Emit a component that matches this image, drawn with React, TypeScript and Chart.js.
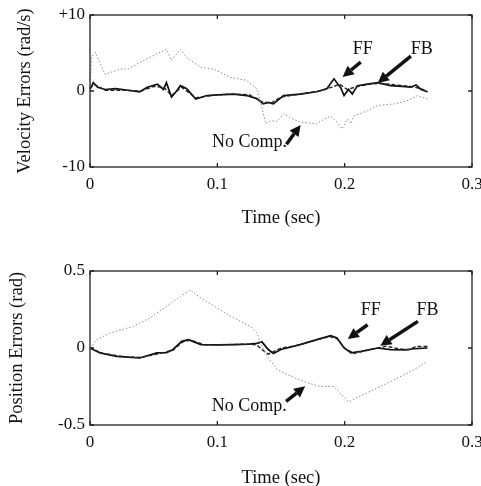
import React, { useEffect, useRef } from "react";
import { Chart, registerables } from "chart.js";
Chart.register(...registerables);

// ---------- tick definitions ----------
const xTickValues = [0, 0.1, 0.2, 0.3];
const xTickLabels = ["0", "0.1", "0.2", "0.3"];
const velTickValues = [-10, 0, 10];
const velTickLabels = ["-10", "0", "+10"];
const posTickValues = [-0.5, 0, 0.5];
const posTickLabels = ["-0.5", "0", "0.5"];

// ---------- velocity errors (rad/s) ----------
const velNoCompT = [0, 0.0013, 0.004, 0.0118, 0.024, 0.03, 0.042, 0.0525, 0.06, 0.064, 0.071, 0.076, 0.087, 0.097, 0.11, 0.123, 0.131, 0.134, 0.138, 0.142, 0.147, 0.152, 0.157, 0.165, 0.178, 0.184, 0.189, 0.194, 0.198, 0.202, 0.205, 0.207, 0.218, 0.226, 0.239, 0.249, 0.257, 0.265];
const velNoCompV = [0.5, 4.5, 5.1, 2.2, 2.9, 2.9, 4.0, 4.9, 5.5, 4.0, 5.5, 4.4, 3.1, 2.9, 1.8, 1.4, 0.3, -1.5, -4.3, -3.9, -4.0, -3.0, -3.5, -4.1, -4.3, -3.7, -3.3, -4.1, -5.0, -3.7, -4.3, -3.3, -2.6, -1.9, -1.7, -1.3, -0.6, -1.05];

const velFFT = [0, 0.0026, 0.006, 0.012, 0.02, 0.03, 0.039, 0.045, 0.053, 0.0577, 0.06, 0.064, 0.068, 0.071, 0.076, 0.083, 0.092, 0.1, 0.113, 0.123, 0.131, 0.136, 0.14, 0.144, 0.152, 0.165, 0.178, 0.186, 0.1916, 0.197, 0.1995, 0.203, 0.206, 0.21, 0.218, 0.226, 0.236, 0.245, 0.252, 0.256, 0.26, 0.265];
const velFFV = [0.2, 1.1, 0.5, 0.2, 0.3, 0.1, -0.1, 0.5, 0.9, 0.2, 1.1, -0.8, 0.0, 0.7, 0.3, -1.05, -0.6, -0.5, -0.4, -0.6, -1.0, -1.7, -1.5, -1.7, -0.6, -0.4, -0.1, 0.3, 1.6, 0.4, -0.6, 0.2, -0.4, 0.7, 0.9, 1.1, 0.7, 0.6, 0.5, 0.8, 0.2, -0.1];

const velFBT = [0, 0.003, 0.012, 0.025, 0.04, 0.05, 0.058, 0.064, 0.072, 0.083, 0.095, 0.11, 0.125, 0.135, 0.142, 0.15, 0.165, 0.18, 0.19, 0.196, 0.202, 0.21, 0.22, 0.228, 0.24, 0.252, 0.26, 0.265];
const velFBV = [0.3, 0.9, 0.1, 0.1, 0.0, 0.6, 0.5, -0.6, 0.5, -0.9, -0.6, -0.4, -0.5, -1.4, -1.6, -0.8, -0.4, 0.0, 0.5, 0.9, 0.2, 0.6, 0.9, 1.0, 0.8, 0.6, 0.3, -0.1];

// ---------- position errors (rad) ----------
const posNoCompT = [0, 0.0053, 0.0157, 0.034, 0.047, 0.06, 0.071, 0.0787, 0.087, 0.0997, 0.113, 0.126, 0.131, 0.134, 0.139, 0.147, 0.157, 0.171, 0.181, 0.1916, 0.197, 0.2034, 0.2126, 0.2257, 0.2415, 0.2546, 0.265];
const posNoCompP = [0, 0.054, 0.097, 0.14, 0.195, 0.27, 0.335, 0.377, 0.325, 0.26, 0.195, 0.14, 0.1, 0.03, -0.054, -0.14, -0.18, -0.227, -0.25, -0.25, -0.3, -0.35, -0.31, -0.26, -0.195, -0.14, -0.086];

const posFFT = [0, 0.0079, 0.021, 0.039, 0.0525, 0.06, 0.065, 0.072, 0.0774, 0.087, 0.1, 0.113, 0.125, 0.131, 0.135, 0.14, 0.144, 0.15, 0.165, 0.178, 0.189, 0.194, 0.1995, 0.205, 0.213, 0.226, 0.236, 0.247, 0.255, 0.265];
const posFFP = [0, -0.032, -0.054, -0.065, -0.032, -0.03, -0.011, 0.043, 0.054, 0.022, 0.02, 0.022, 0.025, 0.03, 0.04, -0.01, -0.035, -0.01, 0.022, 0.054, 0.08, 0.065, 0.0, -0.032, -0.022, 0.0, -0.01, -0.012, -0.005, 0.0];

const posFBT = [0, 0.01, 0.025, 0.04, 0.055, 0.065, 0.073, 0.079, 0.09, 0.11, 0.125, 0.131, 0.135, 0.14, 0.145, 0.15, 0.16, 0.175, 0.188, 0.194, 0.2, 0.207, 0.215, 0.226, 0.233, 0.242, 0.25, 0.256, 0.265];
const posFBP = [0, -0.035, -0.055, -0.062, -0.035, -0.015, 0.04, 0.052, 0.02, 0.022, 0.025, 0.02, -0.01, -0.04, -0.02, 0.0, 0.012, 0.045, 0.075, 0.06, 0.0, -0.035, -0.02, 0.0, 0.012, -0.005, -0.012, 0.01, 0.01];

const FONT = "'Liberation Serif', 'DejaVu Serif', serif";

type Ann = { text: string; tx: number; ty: number; ax1: number; ay1: number; ax2: number; ay2: number };

const velAnnotations: Ann[] = [
  { text: "FF", tx: 0.2142, ty: 5.5, ax1: 0.2126, ay1: 3.8, ax2: 0.1984, ay2: 1.84 },
  { text: "FB", tx: 0.2606, ty: 5.5, ax1: 0.252, ay1: 4.6, ax2: 0.226, ay2: 1.05 },
  { text: "No Comp.", tx: 0.1252, ty: -6.78, ax1: 0.1543, ay1: -7.0, ax2: 0.1654, ay2: -4.47 },
];
const posAnnotations: Ann[] = [
  { text: "FF", tx: 0.2205, ty: 0.247, ax1: 0.218, ay1: 0.151, ax2: 0.2024, ay2: 0.058 },
  { text: "FB", tx: 0.265, ty: 0.247, ax1: 0.2575, ay1: 0.173, ax2: 0.228, ay2: 0.015 },
  { text: "No Comp.", tx: 0.125, ty: -0.38, ax1: 0.154, ay1: -0.346, ax2: 0.169, ay2: -0.249 },
];

function pts(t: number[], v: number[]) {
  return t.map((x, i) => ({ x, y: v[i] }));
}

type PanelProps = {
  noComp: { x: number; y: number }[];
  ff: { x: number; y: number }[];
  fb: { x: number; y: number }[];
  yMin: number;
  yMax: number;
  yTicks: number[];
  yLabels: string[];
  yTitle: string;
  yTitlePad: number;
  xTitlePad: number;
  padTop: number;
  xAxisHeight: number;
  annotations: Ann[];
};

function Panel(p: PanelProps) {
  const ref = useRef<HTMLCanvasElement>(null);
  useEffect(() => {
    if (!ref.current) return;
    const framePlugin = {
      id: "frame",
      afterDraw(chart: any) {
        const { ctx, chartArea, scales } = chart;
        const { left, right, top, bottom } = chartArea;
        const xs = scales.x, ys = scales.y;
        ctx.save();
        ctx.strokeStyle = "#222";
        ctx.lineWidth = 1.3;
        ctx.strokeRect(left, top, right - left, bottom - top);
        const tl = 4;
        ctx.beginPath();
        xTickValues.forEach((v) => {
          const px = xs.getPixelForValue(v);
          ctx.moveTo(px, bottom); ctx.lineTo(px, bottom - tl);
          ctx.moveTo(px, top); ctx.lineTo(px, top + tl);
        });
        p.yTicks.forEach((v) => {
          const py = ys.getPixelForValue(v);
          ctx.moveTo(left, py); ctx.lineTo(left + tl, py);
          ctx.moveTo(right, py); ctx.lineTo(right - tl, py);
        });
        ctx.stroke();
        // annotations
        ctx.fillStyle = "#111";
        ctx.strokeStyle = "#111";
        ctx.font = `18px ${FONT}`;
        ctx.textAlign = "center";
        ctx.textBaseline = "middle";
        p.annotations.forEach((a) => {
          ctx.fillText(a.text, xs.getPixelForValue(a.tx), ys.getPixelForValue(a.ty));
          const x1 = xs.getPixelForValue(a.ax1), y1 = ys.getPixelForValue(a.ay1);
          const x2 = xs.getPixelForValue(a.ax2), y2 = ys.getPixelForValue(a.ay2);
          const ang = Math.atan2(y2 - y1, x2 - x1);
          const hl = 11, hw = 5.5;
          const bx = x2 - hl * Math.cos(ang), by = y2 - hl * Math.sin(ang);
          ctx.lineWidth = 3.5;
          ctx.beginPath();
          ctx.moveTo(x1, y1);
          ctx.lineTo(bx, by);
          ctx.stroke();
          ctx.beginPath();
          ctx.moveTo(x2, y2);
          ctx.lineTo(bx + hw * Math.sin(ang), by - hw * Math.cos(ang));
          ctx.lineTo(bx - hw * Math.sin(ang), by + hw * Math.cos(ang));
          ctx.closePath();
          ctx.fill();
        });
        ctx.restore();
      },
    };
    const chart = new Chart(ref.current, {
      type: "line",
      data: {
        datasets: [
          { label: "No Comp.", data: p.noComp, borderColor: "#8c8c8c", borderWidth: 1, borderDash: [1.5, 2], pointRadius: 0, tension: 0 },
          { label: "FB", data: p.fb, borderColor: "#222", borderWidth: 1.4, borderDash: [4, 2], pointRadius: 0, tension: 0 },
          { label: "FF", data: p.ff, borderColor: "#111", borderWidth: 1.7, pointRadius: 0, tension: 0 },
        ],
      },
      options: {
        animation: false,
        responsive: true,
        maintainAspectRatio: false,
        layout: { padding: { top: p.padTop, right: 9, left: 0, bottom: 0 } },
        plugins: { legend: { display: false }, tooltip: { enabled: false } },
        scales: {
          x: {
            type: "linear",
            min: 0,
            max: 0.3,
            grid: { display: false, drawTicks: false },
            border: { display: false },
            afterBuildTicks: (s: any) => { s.ticks = xTickValues.map((v) => ({ value: v })); },
            afterFit: (s: any) => { s.height = p.xAxisHeight; s.paddingLeft = 0; s.paddingRight = 0; },
            ticks: {
              padding: 7,
              color: "#111",
              maxRotation: 0,
              font: { family: FONT, size: 17 },
              callback: (v: any) => xTickLabels[xTickValues.indexOf(v)],
            },
            title: { display: true, text: "Time (sec)", color: "#111", font: { family: FONT, size: 18.5 }, padding: { top: 0, bottom: p.xTitlePad } },
          },
          y: {
            type: "linear",
            min: p.yMin,
            max: p.yMax,
            grid: { display: false, drawTicks: false },
            border: { display: false },
            afterBuildTicks: (s: any) => { s.ticks = p.yTicks.map((v) => ({ value: v })); },
            afterFit: (s: any) => { s.width = 90; s.paddingTop = 0; s.paddingBottom = 0; },
            ticks: {
              padding: 5,
              color: "#111",
              font: { family: FONT, size: 17 },
              callback: (v: any) => p.yLabels[p.yTicks.indexOf(v)],
            },
            title: { display: true, text: p.yTitle, color: "#111", font: { family: FONT, size: 18.5 }, padding: { top: p.yTitlePad, bottom: 0 } },
          },
        },
      },
      plugins: [framePlugin],
    } as any);
    return () => chart.destroy();
  }, []);
  return (
    <div style={{ position: "relative", width: 481, height: 243 }}>
      <canvas ref={ref} />
    </div>
  );
}

export default function App() {
  return (
    <div style={{ position: "absolute", left: 0, top: 0, width: 481, height: 486, background: "#fff" }}>
      <Panel
        noComp={pts(velNoCompT, velNoCompV)}
        ff={pts(velFFT, velFFV)}
        fb={pts(velFBT, velFBV)}
        yMin={-10}
        yMax={10}
        yTicks={velTickValues}
        yLabels={velTickLabels}
        yTitle="Velocity Errors (rad/s)"
        yTitlePad={14}
        xTitlePad={13.5}
        padTop={15}
        xAxisHeight={76}
        annotations={velAnnotations}
      />
      <Panel
        noComp={pts(posNoCompT, posNoCompP)}
        ff={pts(posFFT, posFFP)}
        fb={pts(posFBT, posFBP)}
        yMin={-0.5}
        yMax={0.5}
        yTicks={posTickValues}
        yLabels={posTickLabels}
        yTitle="Position Errors (rad)"
        yTitlePad={6.5}
        xTitlePad={-3}
        padTop={28}
        xAxisHeight={61}
        annotations={posAnnotations}
      />
    </div>
  );
}
